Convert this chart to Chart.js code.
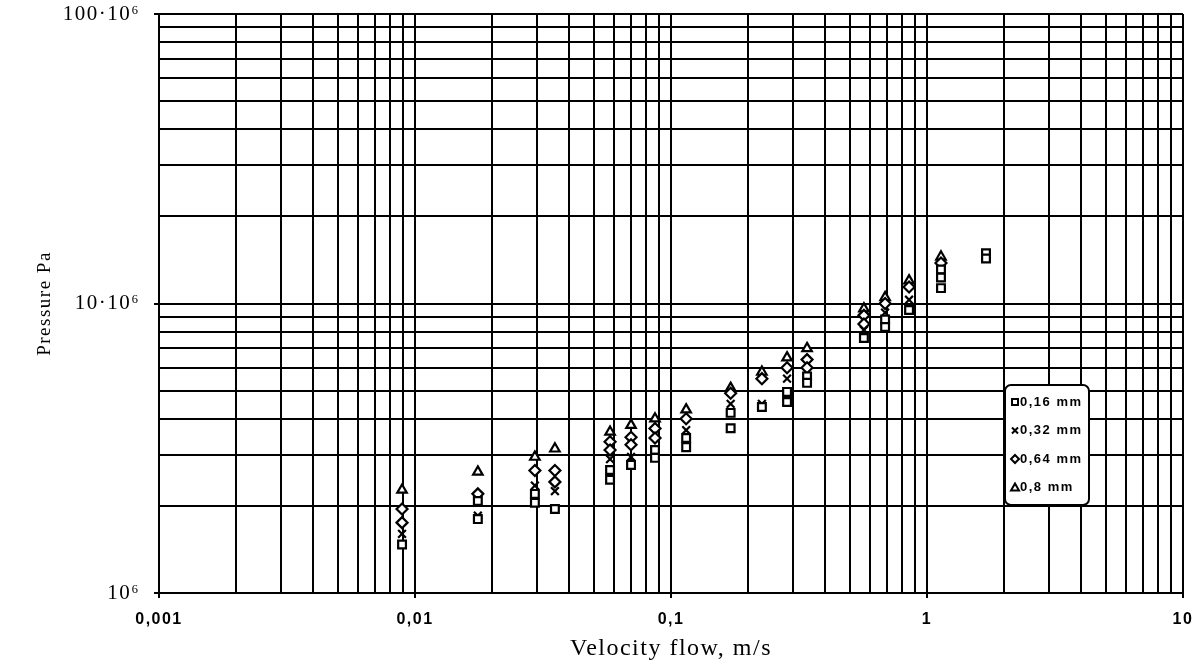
<!DOCTYPE html>
<html>
<head>
<meta charset="utf-8">
<script src="https://cdn.jsdelivr.net/npm/chart.js@4.4.1/dist/chart.umd.min.js"></script>
<style>
    html, body { margin: 0; padding: 0; background: #fff; }
</style>
</head>
<body>
<canvas id="myChart" width="1194" height="664"></canvas>
<script>
// axis ticks (log decades) and their printed labels
const xTickValues = [0.001, 0.01, 0.1, 1, 10];
const xTickLabels = ['0,001', '0,01', '0,1', '1', '10'];
const yTickValues = [1e6, 1e7, 1e8];
const yTickLabels = ['10\u2076', '10\u00B710\u2076', '100\u00B710\u2076'];

// legend names
const seriesNames = ['0,16 mm', '0,32 mm', '0,64 mm', '0,8 mm'];

// 0,16 mm  (squares)
const v016 = [0.0089, 0.0176, 0.0176, 0.0294, 0.0294, 0.0352, 0.0578, 0.0578, 0.0698, 0.0866, 0.0866,
              0.1146, 0.1146, 0.171, 0.171, 0.2265, 0.284, 0.284, 0.34, 0.34, 0.567, 0.686, 0.686,
              0.851, 1.134, 1.134, 1.134, 1.70, 1.70];
const p016 = [1.47e6, 2.08e6, 1.80e6, 2.20e6, 2.05e6, 1.95e6, 2.66e6, 2.46e6, 2.77e6, 3.12e6, 2.93e6,
              3.43e6, 3.19e6, 4.19e6, 3.71e6, 4.39e6, 4.95e6, 4.57e6, 5.6e6, 5.32e6, 7.6e6, 8.8e6, 8.3e6,
              9.5e6, 1.31e7, 1.23e7, 1.13e7, 1.49e7, 1.43e7];

// 0,32 mm  (crosses)
const v032 = [0.0089, 0.0176, 0.0294, 0.0352, 0.0578, 0.0698, 0.0866, 0.1146, 0.171, 0.2265,
              0.284, 0.34, 0.567, 0.686, 0.851, 1.134];
const p032 = [1.60e6, 1.85e6, 2.35e6, 2.25e6, 2.90e6, 2.95e6, 2.95e6, 3.65e6, 4.5e6, 4.5e6,
              5.5e6, 5.6e6, 8.1e6, 9.3e6, 1.03e7, 1.25e7];

// 0,64 mm  (diamonds)
const v064 = [0.0089, 0.0089, 0.0176, 0.0294, 0.0352, 0.0352, 0.0578, 0.0578, 0.0698, 0.0698,
              0.0866, 0.0866, 0.1146, 0.171, 0.2265, 0.284, 0.34, 0.34, 0.567, 0.567, 0.686, 0.851, 1.134];
const p064 = [1.95e6, 1.75e6, 2.20e6, 2.65e6, 2.65e6, 2.42e6, 3.33e6, 3.12e6, 3.45e6, 3.25e6,
              3.70e6, 3.43e6, 4.0e6, 4.9e6, 5.5e6, 6.0e6, 6.4e6, 6.0e6, 9.1e6, 8.5e6, 1.0e7, 1.14e7, 1.38e7];

// 0,8 mm  (triangles)
const v08 = [0.0089, 0.0176, 0.0294, 0.0352, 0.0578, 0.0698, 0.0866, 0.1146, 0.171, 0.2265,
             0.284, 0.34, 0.567, 0.686, 0.851, 1.134];
const p08 = [2.27e6, 2.62e6, 2.95e6, 3.15e6, 3.6e6, 3.8e6, 4.0e6, 4.3e6, 5.1e6, 5.8e6,
             6.5e6, 7.0e6, 9.6e6, 1.05e7, 1.2e7, 1.45e7];

const pointStyles = ['rect', 'crossRot', 'rectRot', 'triangle'];

function toPoints(xs, ys) {
    return xs.map((x, i) => ({ x: x, y: ys[i] }));
}

// every 1..9 step of each decade gets a grid line
function logGrid(decades, last) {
    const vals = [];
    decades.forEach(d => {
        for (let m = 1; m <= 9; m++) vals.push(m * d);
    });
    vals.push(last);
    return vals;
}

function isDecade(v) {
    const e = Math.log10(v);
    return Math.abs(e - Math.round(e)) < 1e-9;
}

function labelFor(values, labels, v) {
    const i = values.findIndex(t => Math.abs(t - v) / t < 1e-9);
    return i >= 0 ? labels[i] : '';
}

function drawMarker(ctx, style, x, y, r) {
    ctx.beginPath();
    if (style === 'rect') {
        ctx.rect(x - r * 0.75, y - r * 0.75, r * 1.5, r * 1.5);
        ctx.fill();
    } else if (style === 'crossRot') {
        ctx.moveTo(x - r * 0.75, y - r * 0.75); ctx.lineTo(x + r * 0.75, y + r * 0.75);
        ctx.moveTo(x + r * 0.75, y - r * 0.75); ctx.lineTo(x - r * 0.75, y + r * 0.75);
    } else if (style === 'rectRot') {
        ctx.moveTo(x, y - r); ctx.lineTo(x + r, y); ctx.lineTo(x, y + r); ctx.lineTo(x - r, y);
        ctx.closePath();
        ctx.fill();
    } else {
        ctx.moveTo(x, y - r); ctx.lineTo(x + r, y + r * 0.75); ctx.lineTo(x - r, y + r * 0.75);
        ctx.closePath();
        ctx.fill();
    }
    ctx.stroke();
}

// the scanned original has loosely spaced lettering
const looseText = {
    id: 'looseText',
    beforeDraw(chart) {
        chart.ctx.letterSpacing = '1.5px';
    }
};

const boxLegend = {
    id: 'boxLegend',
    afterDatasetsDraw(chart) {
        const ctx = chart.ctx;
        const x0 = 1005, y0 = 385, w = 84, h = 120;
        ctx.save();
        ctx.fillStyle = '#fff';
        ctx.strokeStyle = '#000';
        ctx.lineWidth = 2;
        ctx.beginPath();
        ctx.roundRect(x0, y0, w, h, 6);
        ctx.fill();
        ctx.stroke();
        ctx.font = 'bold 13px "Liberation Sans", Arial, sans-serif';
        ctx.textBaseline = 'middle';
        seriesNames.forEach((name, i) => {
            const y = y0 + 17 + i * 28.5;
            ctx.fillStyle = '#fff';
            ctx.strokeStyle = '#000';
            ctx.lineWidth = 2;
            drawMarker(ctx, pointStyles[i], x0 + 10, y, 4);
            ctx.fillStyle = '#000';
            ctx.fillText(name, x0 + 15, y);
        });
        ctx.restore();
    }
};

const series = [[v016, p016], [v032, p032], [v064, p064], [v08, p08]];

const chart = new Chart(document.getElementById('myChart'), {
    type: 'scatter',
    data: {
        datasets: series.map((s, i) => ({
            label: seriesNames[i],
            data: toPoints(s[0], s[1]),
            pointStyle: pointStyles[i],
            pointRadius: 5.5,
            borderColor: '#000',
            backgroundColor: '#fff',
            borderWidth: 2.2,
            showLine: false
        }))
    },
    options: {
        responsive: false,
        animation: false,
        layout: { padding: { top: 14, right: 11, left: 0, bottom: 0 } },
        plugins: {
            legend: { display: false },
            tooltip: { enabled: false }
        },
        scales: {
            x: {
                type: 'logarithmic',
                min: 0.001,
                max: 10,
                afterBuildTicks(axis) {
                    axis.ticks = logGrid([0.001, 0.01, 0.1, 1], 10).map(v => ({ value: v }));
                },
                afterFit(axis) {
                    axis.height = 71;
                    axis.paddingLeft = 0;
                    axis.paddingRight = 0;
                },
                ticks: {
                    autoSkip: false,
                    maxRotation: 0,
                    padding: 12,
                    color: '#000',
                    font: { family: '"Liberation Sans", Arial, sans-serif', size: 16, weight: 'bold' },
                    callback: v => labelFor(xTickValues, xTickLabels, v)
                },
                grid: {
                    color: '#000',
                    lineWidth: 2,
                    tickLength: 5,
                    tickColor: c => (c.tick && isDecade(c.tick.value)) ? '#000' : 'rgba(0,0,0,0)'
                },
                border: { color: '#000', width: 2 },
                title: {
                    display: true,
                    text: 'Velocity flow, m/s',
                    color: '#000',
                    font: { family: '"Liberation Serif", "Times New Roman", serif', size: 24 },
                    padding: { top: 0, bottom: 1 }
                }
            },
            y: {
                type: 'logarithmic',
                min: 1e6,
                max: 1e8,
                afterBuildTicks(axis) {
                    axis.ticks = logGrid([1e6, 1e7], 1e8).map(v => ({ value: v }));
                },
                afterFit(axis) {
                    axis.width = 159;
                    axis.paddingTop = 0;
                    axis.paddingBottom = 0;
                },
                ticks: {
                    autoSkip: false,
                    padding: 14,
                    color: '#000',
                    font: { family: '"Liberation Serif", "Times New Roman", serif', size: 21 },
                    callback: v => labelFor(yTickValues, yTickLabels, v)
                },
                grid: {
                    color: '#000',
                    lineWidth: 2,
                    tickLength: 5,
                    tickColor: c => (c.tick && isDecade(c.tick.value)) ? '#000' : 'rgba(0,0,0,0)'
                },
                border: { color: '#000', width: 2 },
                title: {
                    display: true,
                    text: 'Pressure Pa',
                    color: '#000',
                    font: { family: '"Liberation Serif", "Times New Roman", serif', size: 19 },
                    padding: { top: 34, bottom: 0 }
                }
            }
        }
    },
    plugins: [looseText, boxLegend]
});
</script>
</body>
</html>
